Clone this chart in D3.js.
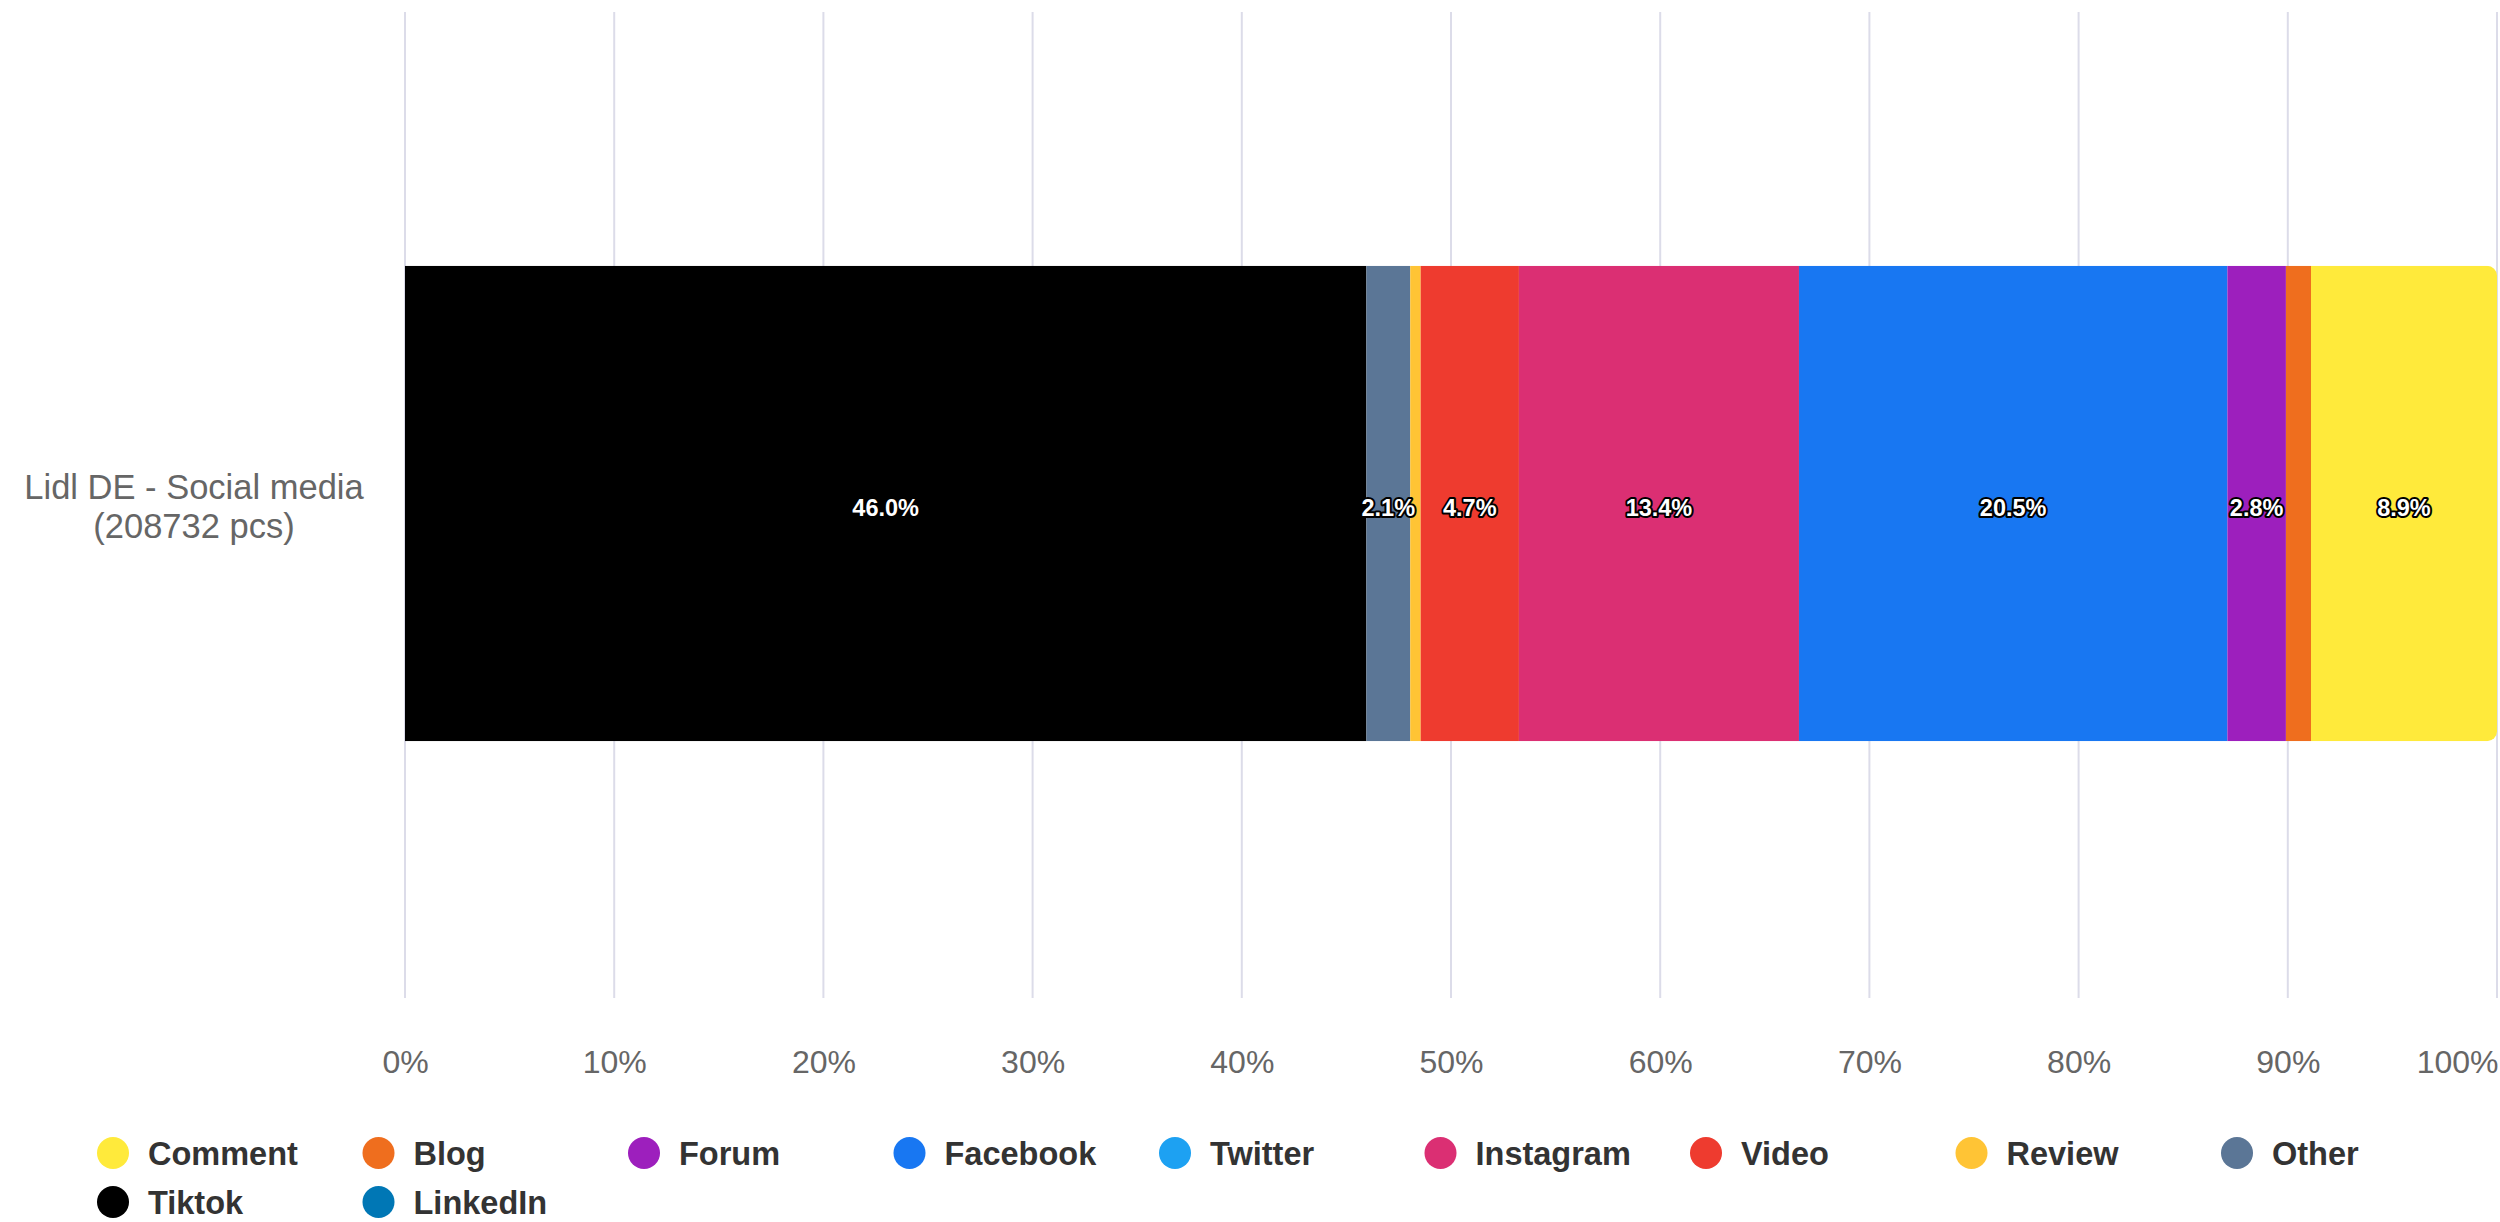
<!DOCTYPE html>
<html>
<head>
<meta charset="utf-8">
<script src="https://cdn.jsdelivr.net/npm/d3@7"></script>
<style>
  body { margin: 0; background: #fff; }
  svg { font-family: "Liberation Sans", Arial, sans-serif; }
</style>
</head>
<body>
<div id="chart"></div>
<script>
// categories and totals
const categories = ["Lidl DE - Social media"];
const categoryCounts = [208732];

// series (legend order)
const seriesNames = ["Comment", "Blog", "Forum", "Facebook", "Twitter", "Instagram", "Video", "Review", "Other", "Tiktok", "LinkedIn"];
const seriesValues = [8.9, 1.2, 2.8, 20.5, 0, 13.4, 4.7, 0.5, 2.1, 46.0, 0];
const seriesColors = ["#ffea3b", "#ef6e1e", "#9d1fbd", "#1877f2", "#1da1f2", "#db2f73", "#ee3b2f", "#ffc435", "#5b7696", "#000000", "#0077b5"];

const xTicks = [0, 10, 20, 30, 40, 50, 60, 70, 80, 90, 100];

const svgWidth = 2500;
const svgHeight = 1222;
const margin = { top: 12, right: 3, bottom: 224, left: 405 };

const svg = d3
  .select("#chart")
  .append("svg")
  .attr("width", svgWidth)
  .attr("height", svgHeight);

const xScale = d3
  .scaleLinear()
  .domain([0, 100])
  .range([margin.left, svgWidth - margin.right]);

const yScale = d3
  .scaleBand()
  .domain(categories)
  .range([margin.top - 1, svgHeight - margin.bottom - 2])
  .paddingInner(0.349)
  .paddingOuter(0.349);

const color = d3.scaleOrdinal().domain(seriesNames).range(seriesColors);

// Grid lines
svg
  .append("g")
  .selectAll("line")
  .data(xTicks)
  .enter()
  .append("line")
  .attr("x1", (d) => xScale(d))
  .attr("x2", (d) => xScale(d))
  .attr("y1", margin.top)
  .attr("y2", svgHeight - margin.bottom)
  .attr("stroke", "#dcdce9")
  .attr("stroke-width", 2);

// X axis labels
const xAxis = svg
  .append("g")
  .attr("transform", `translate(0, ${svgHeight - margin.bottom})`)
  .call(d3.axisBottom(xScale).tickValues(xTicks).tickSize(0).tickPadding(52).tickFormat((d) => d + "%"));
xAxis.select(".domain").remove();
xAxis
  .selectAll("text")
  .attr("fill", "#666")
  .style("font-size", "32px")
  .style("font-family", "'Liberation Sans', Arial, sans-serif");
// keep the last label inside the chart
xAxis
  .selectAll(".tick")
  .filter((d) => d === 100)
  .select("text")
  .attr("text-anchor", "end")
  .attr("x", 1);

// Stack data (bar runs in reverse legend order)
const row = { category: categories[0] };
seriesNames.forEach((name, i) => (row[name] = seriesValues[i]));
const stackKeys = seriesNames.slice().reverse();
const stacked = d3.stack().keys(stackKeys).offset(d3.stackOffsetExpand)([row]);

// Clip for the rounded right end
const barY = yScale(categories[0]);
const barH = yScale.bandwidth();
svg
  .append("clipPath")
  .attr("id", "barClip")
  .append("rect")
  .attr("x", xScale(0) - 20)
  .attr("y", barY)
  .attr("width", xScale(100) - xScale(0) + 20)
  .attr("height", barH)
  .attr("rx", 10);

const bars = svg.append("g").attr("clip-path", "url(#barClip)");
stacked.forEach((layer) => {
  layer.forEach((d) => {
    bars
      .append("rect")
      .attr("x", xScale(d[0] * 100))
      .attr("y", yScale(d.data.category))
      .attr("width", Math.max(0, xScale(d[1] * 100) - xScale(d[0] * 100)))
      .attr("height", barH)
      .attr("fill", color(layer.key));
  });
});

// Segment labels
const labels = svg.append("g");
stacked.forEach((layer) => {
  layer.forEach((d) => {
    const v = d.data[layer.key];
    if (v < 2) return;
    labels
      .append("text")
      .attr("x", xScale(((d[0] + d[1]) / 2) * 100))
      .attr("y", yScale(d.data.category) + barH / 2 + 12)
      .attr("text-anchor", "middle")
      .style("font-size", "23.5px")
      .style("font-weight", "bold")
      .attr("fill", "#fff")
      .attr("stroke", "#000")
      .attr("stroke-width", 4)
      .attr("stroke-linejoin", "round")
      .attr("paint-order", "stroke")
      .text(v.toFixed(1) + "%");
  });
});

// Category label
const catLabel = svg
  .append("text")
  .attr("x", 194)
  .attr("y", barY + barH / 2 - 5)
  .attr("text-anchor", "middle")
  .attr("fill", "#666")
  .style("font-size", "34.5px");
catLabel.append("tspan").attr("x", 194).text(categories[0]);
catLabel.append("tspan").attr("x", 194).attr("dy", 39).text(`(${categoryCounts[0]} pcs)`);

// Legend
const legendCols = 9;
const legend = svg.append("g");
seriesNames.forEach((name, i) => {
  const cx = 113 + (i % legendCols) * 265.5;
  const cy = 1153 + Math.floor(i / legendCols) * 49;
  legend.append("circle").attr("cx", cx).attr("cy", cy).attr("r", 16).attr("fill", color(name));
  legend
    .append("text")
    .attr("x", cx + 35)
    .attr("y", cy + 12)
    .attr("fill", "#333")
    .style("font-size", "32.5px")
    .style("font-weight", "bold")
    .text(name);
});
</script>
</body>
</html>
